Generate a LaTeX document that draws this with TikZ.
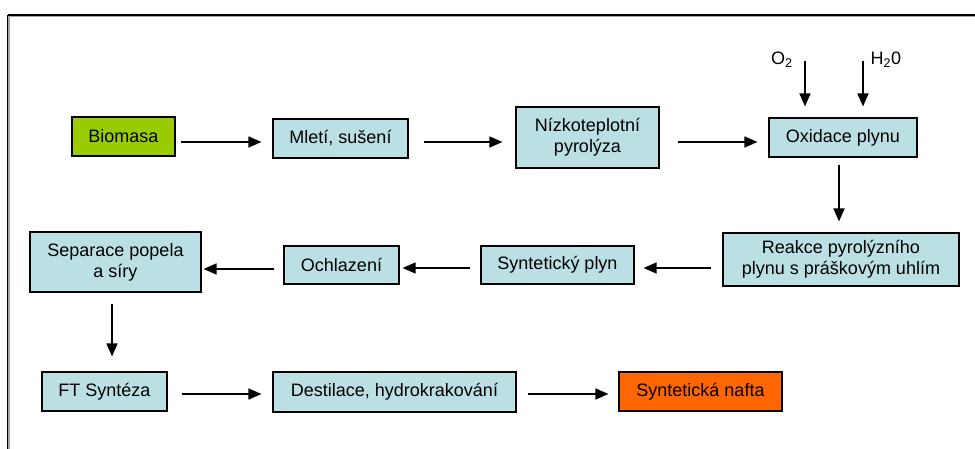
\documentclass[tikz,border=0pt]{standalone}
\usepackage{fontspec}
\setmainfont{Liberation Sans}
\usetikzlibrary{arrows.meta,shadows}
\definecolor{boxfill}{HTML}{BBE0E3}
\definecolor{biogreen}{HTML}{99CC00}
\definecolor{naftaorange}{HTML}{FF6600}
\tikzset{
  box/.style={draw=black, line width=1.1pt, fill=boxfill, inner sep=0pt, align=center,
    font=\fontsize{18}{21}\selectfont,
    drop shadow={shadow xshift=1.3pt, shadow yshift=-1.3pt, fill=black!35, opacity=1}},
  arr/.style={line width=1.5pt, -{Triangle[length=13pt,width=11pt]}},
  lbl/.style={inner sep=0pt, font=\fontsize{18}{21}\selectfont}
}
\begin{document}
\begin{tikzpicture}[x=1pt,y=-1pt]
\useasboundingbox (0,0) rectangle (975,449);
% frame
\draw[line width=1.3pt, black!35] (9,16.5) -- (975,16.5);
\draw[line width=1.3pt, black!35] (9,16.5) -- (9,449);
\draw[line width=1.3pt] (7.5,15) -- (975,15);
\draw[line width=1.3pt] (7.5,15) -- (7.5,449);
% nodes
\node[box, fill=biogreen, minimum width=103, minimum height=39] (bio) at (123.5,136.5) {Biomasa};
\node[box, minimum width=135, minimum height=39] (mlet) at (340.5,138.5) {Mletí, sušení};
\node[box, minimum width=143, minimum height=61] (nizko) at (587.5,137.5) {Nízkoteplotní\\pyrolýza};
\node[box, minimum width=148, minimum height=39] (oxid) at (843,137.5) {Oxidace plynu};
\node[box, minimum width=236, minimum height=53] (reakce) at (841,259.5) {Reakce pyrolýzního\\plynu s práškovým uhlím};
\node[box, minimum width=153, minimum height=38] (synt) at (557.5,265) {Syntetický plyn};
\node[box, minimum width=115, minimum height=38] (ochl) at (341.5,265) {Ochlazení};
\node[box, minimum width=171, minimum height=60] (sep) at (115.5,262) {Separace popela\\a síry};
\node[box, minimum width=125, minimum height=39] (ft) at (104.5,391.5) {FT Syntéza};
\node[box, minimum width=243, minimum height=40] (dest) at (394.5,392) {Destilace, hydrokrakování};
\node[box, fill=naftaorange, minimum width=163, minimum height=39] (nafta) at (700.5,391.5) {Syntetická nafta};
% inputs
\node[lbl, anchor=base west] (o2) at (771,65) {O\textsubscript{2}};
\node[lbl, anchor=base west] (h2o) at (870.5,65) {H\textsubscript{2}0};
\coordinate (o2in) at (805,61);
\coordinate (h2oin) at (863,61);
% connectors
\draw[arr, shorten <=5pt, shorten >=11pt] (bio.east |- 0,142) -- (mlet.west |- 0,142);
\draw[arr, shorten <=15pt, shorten >=13pt] (mlet.east |- 0,142) -- (nizko.west |- 0,142);
\draw[arr, shorten <=18pt, shorten >=11pt] (nizko.east |- 0,142) -- (oxid.west |- 0,142);
\draw[arr, shorten >=11pt] (o2in) -- (o2in |- oxid.north);
\draw[arr, shorten >=11pt] (h2oin) -- (h2oin |- oxid.north);
\draw[arr, shorten <=7pt, shorten >=11pt] (839,0 |- oxid.south) -- (839,0 |- reakce.north);
\draw[arr, shorten <=11pt, shorten >=9pt] (reakce.west |- 0,268) -- (synt.east |- 0,268);
\draw[arr, shorten <=10pt, shorten >=3pt] (synt.west |- 0,268) -- (ochl.east |- 0,268);
\draw[arr, shorten <=9pt, shorten >=2pt] (ochl.west |- 0,269) -- (sep.east |- 0,269);
\draw[arr, shorten <=11pt, shorten >=15pt] (112,0 |- sep.south) -- (112,0 |- ft.north);
\draw[arr, shorten <=14pt, shorten >=11pt] (ft.east |- 0,394) -- (dest.west |- 0,394);
\draw[arr, shorten <=11pt, shorten >=10pt] (dest.east |- 0,394) -- (nafta.west |- 0,394);
\end{tikzpicture}
\end{document}
